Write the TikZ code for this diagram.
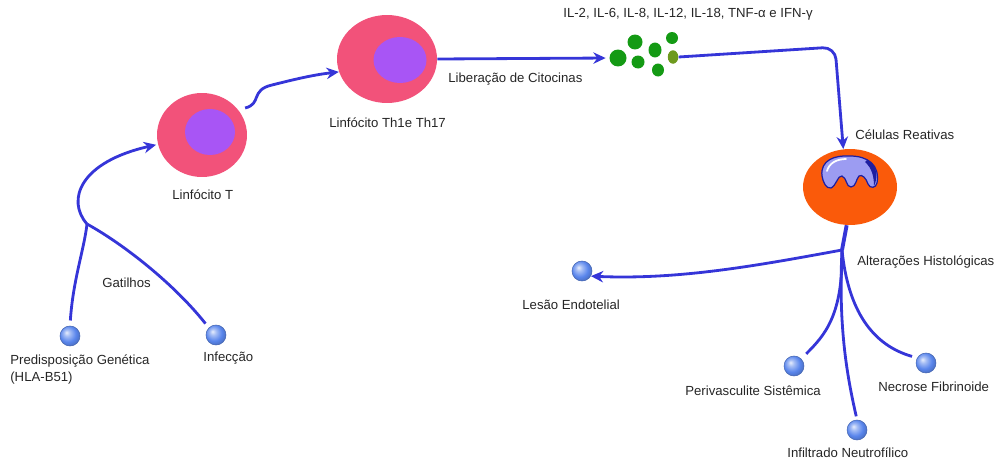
\documentclass[tikz,border=0pt]{standalone}
\usepackage{fontspec}
\setmainfont{Liberation Sans}
\usetikzlibrary{arrows.meta,shapes.geometric,positioning}
\definecolor{cellpink}{HTML}{F2527A}
\definecolor{nucpurple}{HTML}{A855F5}
\definecolor{cellorange}{HTML}{FA5A0A}
\definecolor{linkblue}{HTML}{3535D8}
\definecolor{tipblue}{HTML}{5C5CE6}
\definecolor{cytgreen}{HTML}{149A14}
\definecolor{cytolive}{HTML}{6E9A1E}
\definecolor{ballblue}{HTML}{5A86EC}
\definecolor{nuclav}{HTML}{9C9CF2}
\definecolor{nucedge}{HTML}{1E1EA0}

% light sphere for the outcome dots
\pgfdeclareradialshading{bluesphere}{\pgfqpoint{-9bp}{9bp}}{%
  color(0bp)=(white!85!ballblue);
  color(8bp)=(white!45!ballblue);
  color(20bp)=(ballblue);
  color(28bp)=(ballblue!85!black);
  color(50bp)=(ballblue!70!black)}

\tikzset{
  lbl/.style={font=\fontsize{7.5}{9.6}\selectfont, text=black!85, inner sep=0pt, anchor=west},
  link/.style={draw=linkblue, line width=1.6pt},
  conn/.style={link, -{Stealth[length=7pt,width=6.5pt,fill=tipblue]}},
  dot/.style={circle, minimum size=0.4cm, inner sep=0pt, shading=bluesphere, draw=ballblue!75!black, line width=0.3pt},
  cyt/.style={ellipse, fill=cytgreen, inner sep=0pt},
  cell/.style={ellipse, inner sep=0pt, fill=cellpink},
  nucleus/.style={ellipse, inner sep=0pt, fill=nucpurple},
}

\begin{document}
\begin{tikzpicture}[x=0.02cm,y=-0.02cm]
\useasboundingbox (0,0) rectangle (999,463);

% lymphocytes
\node[cell, minimum width=1.8cm, minimum height=1.68cm] (linfT) at (202,135) {};
\node[nucleus, minimum width=1cm, minimum height=0.92cm] (linfTnuc) at (210,132) {};
\node[cell, minimum width=2cm, minimum height=1.76cm] (th1) at (387,59) {};
\node[nucleus, minimum width=1.06cm, minimum height=0.92cm] (th1nuc) at (400,60) {};

% cytokines
\node[cyt, minimum width=0.34cm, minimum height=0.34cm] (cyt1) at (618,58) {};
\node[cyt, minimum width=0.3cm, minimum height=0.3cm] (cyt2) at (635,42) {};
\node[cyt, minimum width=0.26cm, minimum height=0.26cm] (cyt3) at (638,62) {};
\node[cyt, minimum width=0.26cm, minimum height=0.3cm] (cyt4) at (655,50) {};
\node[cyt, minimum width=0.24cm, minimum height=0.24cm] (cyt5) at (672,38) {};
\node[cyt, fill=cytolive, minimum width=0.21cm, minimum height=0.27cm] (cyt6) at (673,57) {};
\node[cyt, minimum width=0.24cm, minimum height=0.26cm] (cyt7) at (658,70) {};

% reactive cell
\node[cell, fill=cellorange, minimum width=1.88cm, minimum height=1.52cm] (reat) at (850,187) {};
\filldraw[fill=nuclav, draw=nucedge, line width=0.7pt]
  (822,176) .. controls (820,160) and (835,155) .. (850,156)
  .. controls (868,156) and (880,165) .. (877,183)
  .. controls (876,188) and (870,189) .. (868,184)
  .. controls (866,178) and (862,174) .. (859,176)
  .. controls (856,179) and (856,187) .. (851,187)
  .. controls (846,187) and (847,178) .. (842,176)
  .. controls (838,175) and (836,186) .. (831,188)
  .. controls (826,189) and (823,182) .. (822,176) -- cycle;
\fill[nucedge] (867,160) .. controls (878,165) and (878,178) .. (874,186)
  .. controls (874,177) and (872,168) .. (865,162) -- cycle;
\draw[white, line width=1pt, line cap=round] (827,171) .. controls (829,163) and (837,159) .. (846,159);

% outcome dots
\node[dot] (predisp) at (70,336) {};
\node[dot] (infec) at (216,335) {};
\node[dot] (lesao) at (582,271) {};
\node[dot] (peri) at (794,366) {};
\node[dot] (infil) at (857,430) {};
\node[dot] (necr) at (926,363) {};

\coordinate (gat) at (87,224);
\coordinate (alt) at (842,250);

% connectors
\draw[link, shorten <=3pt] (predisp.north) .. controls (73,280) and (84,250) .. (gat);
\draw[link, shorten <=3pt] (infec.north west) .. controls (175,285) and (125,245) .. (gat);
\draw[conn, shorten >=1pt] (gat) .. controls (66,200) and (80,162) .. (linfT.192);
\draw[conn, shorten <=4pt] (linfT.35) .. controls (262,104) and (250,90) .. (272,85)
  .. controls (292,80) and (312,75) .. (th1.195);
\draw[conn, shorten >=2pt] (th1.east) -- (cyt1.west);
\draw[conn, rounded corners=7pt] (cyt6.east) -- (835,47) -- (reat.100);
\draw[link, line width=2.2pt] (reat.265) -- (alt);
\draw[conn] (alt) .. controls (760,265) and (680,280) .. (lesao.-30);
\draw[link, shorten >=4pt] (alt) .. controls (843,315) and (825,335) .. (peri.north east);
\draw[link, shorten >=2pt] (alt) .. controls (838,330) and (848,380) .. (infil.north);
\draw[link, shorten >=3pt] (alt) .. controls (848,310) and (872,345) .. (necr.150);

% labels
\node[lbl] (linfTlbl) at (172,195) {Linfócito T};
\node[lbl] (th1lbl) at (329,123) {Linfócito Th1e Th17};
\node[lbl] (liblbl) at (448,79) {Liberação de Citocinas};
\node[lbl] (cytlbl) at (563,14) {IL-2, IL-6, IL-8, IL-12, IL-18, TNF-α e IFN-γ};
\node[lbl] (reatlbl) at (855,135) {Células Reativas};
\node[lbl] (altlbl) at (857,262) {Alterações Histológicas};
\node[lbl] (lesaolbl) at (522,305) {Lesão Endotelial};
\node[lbl] (perilbl) at (685,391) {Perivasculite Sistêmica};
\node[lbl] (infillbl) at (787,453) {Infiltrado Neutrofílico};
\node[lbl] (necrlbl) at (878,387) {Necrose Fibrinoide};
\node[lbl] (gatlbl) at (102,283) {Gatilhos};
\node[lbl, align=left] (predisplbl) at (10,369.5) {Predisposição Genética\\(HLA-B51)};
\node[lbl] (infeclbl) at (203,358) {Infecção};
\end{tikzpicture}
\end{document}
